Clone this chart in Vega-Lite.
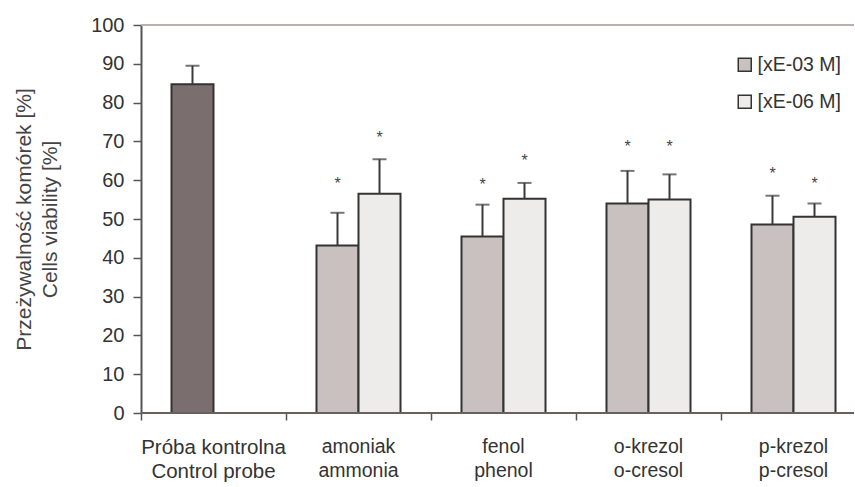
{
  "$schema": "https://vega.github.io/schema/vega-lite/v6.json",
  "width": 855,
  "height": 487,
  "autosize": {"type": "fit", "contains": "padding"},
  "padding": {"left": 13, "top": 15, "right": 0, "bottom": 5},
  "config": {
    "view": {"stroke": null},
    "font": "Liberation Sans",
    "axis": {"labelOverlap": false, "grid": false},
    "axisY": {
      "titleFontSize": 21,
      "titleFontWeight": "normal",
      "titleColor": "#444444",
      "titleLineHeight": 26,
      "titlePadding": 30,
      "labelFontSize": 20,
      "labelColor": "#333333",
      "labelPadding": 9,
      "labelOverlap": false,
      "labelFlush": false,
      "tickSize": 8,
      "tickWidth": 1.5,
      "tickColor": "#555555",
      "domainColor": "#555555",
      "domainWidth": 2
    },
    "axisX": {
      "domain": false,
      "bandPosition": 0,
      "labelAngle": 0,
      "labelColor": "#333333",
      "labelBaseline": "top",
      "labelLineHeight": 24,
      "labelPadding": 17,
      "labelOverlap": false,
      "labelBound": false,
      "tickSize": 7,
      "tickWidth": 1.5,
      "tickColor": "#555555"
    }
  },
  "data": {
    "values": [
      {"g": "Próba kontrolna|Control probe", "s": "[xE-03 M]", "shade": "control", "v": 84.7, "err": 89.5, "star": null},
      {"g": "amoniak|ammonia", "s": "[xE-03 M]", "shade": "[xE-03 M]", "v": 43.2, "err": 51.6, "star": 60.1},
      {"g": "amoniak|ammonia", "s": "[xE-06 M]", "shade": "[xE-06 M]", "v": 56.5, "err": 65.4, "star": 71.9},
      {"g": "fenol|phenol", "s": "[xE-03 M]", "shade": "[xE-03 M]", "v": 45.5, "err": 53.7, "star": 59.8},
      {"g": "fenol|phenol", "s": "[xE-06 M]", "shade": "[xE-06 M]", "v": 55.2, "err": 59.3, "star": 66.0},
      {"g": "o-krezol|o-cresol", "s": "[xE-03 M]", "shade": "[xE-03 M]", "v": 54.0, "err": 62.4, "star": 69.6},
      {"g": "o-krezol|o-cresol", "s": "[xE-06 M]", "shade": "[xE-06 M]", "v": 55.0, "err": 61.5, "star": 69.6},
      {"g": "p-krezol|p-cresol", "s": "[xE-03 M]", "shade": "[xE-03 M]", "v": 48.6, "err": 56.0, "star": 62.7},
      {"g": "p-krezol|p-cresol", "s": "[xE-06 M]", "shade": "[xE-06 M]", "v": 50.6, "err": 54.0, "star": 60.1}
    ]
  },
  "layer": [
    {
      "mark": {"type": "bar", "stroke": "#333333", "strokeWidth": 2},
      "encoding": {
        "x": {
          "field": "g", "type": "nominal", "sort": null,
          "scale": {"range": [0, 725], "paddingInner": 0, "paddingOuter": 0},
          "axis": {
            "title": null,
            "labelExpr": "split(datum.label, '|')",
            "labelFontSize": {"condition": {"test": "indexof(datum.value, 'Próba') >= 0", "value": 20.5}, "value": 19.5}
          }
        },
        "xOffset": {
          "field": "s", "type": "nominal",
          "sort": ["[xE-03 M]", "[xE-06 M]"],
          "scale": {"paddingInner": 0, "paddingOuter": 0.726}
        },
        "y": {
          "field": "v", "type": "quantitative",
          "scale": {"domain": [0, 100], "nice": false},
          "axis": {
            "values": [0, 10, 20, 30, 40, 50, 60, 70, 80, 90, 100],
            "tickCount": 11,
            "title": ["Przeżywalność komórek [%]", "Cells viability [%]"]
          }
        },
        "fill": {
          "field": "shade", "type": "nominal",
          "scale": {
            "domain": ["control", "[xE-03 M]", "[xE-06 M]"],
            "range": ["#7b6e6e", "#c9c1bf", "#edecea"]
          },
          "legend": {
            "values": ["[xE-03 M]", "[xE-06 M]"],
            "title": null,
            "orient": "none",
            "legendX": 594,
            "legendY": 30,
            "symbolType": "square",
            "symbolSize": 169,
            "symbolStrokeColor": "#333333",
            "symbolStrokeWidth": 1.5,
            "labelFontSize": 19.5,
            "labelColor": "#333333",
            "labelOffset": 3,
            "rowPadding": 16
          }
        }
      }
    },
    {
      "mark": {"type": "rule", "color": "#3a3a3a", "strokeWidth": 2},
      "encoding": {
        "x": {"field": "g", "type": "nominal", "sort": null},
        "xOffset": {"field": "s", "type": "nominal", "sort": ["[xE-03 M]", "[xE-06 M]"]},
        "y": {"field": "v", "type": "quantitative", "axis": {"values": [0, 10, 20, 30, 40, 50, 60, 70, 80, 90, 100], "tickCount": 11, "title": ["Przeżywalność komórek [%]", "Cells viability [%]"]}},
        "y2": {"field": "err"}
      }
    },
    {
      "mark": {"type": "tick", "color": "#3a3a3a", "thickness": 2, "size": 14, "orient": "horizontal"},
      "encoding": {
        "x": {"field": "g", "type": "nominal", "sort": null},
        "xOffset": {"field": "s", "type": "nominal", "sort": ["[xE-03 M]", "[xE-06 M]"]},
        "y": {"field": "err", "type": "quantitative", "axis": {"values": [0, 10, 20, 30, 40, 50, 60, 70, 80, 90, 100], "tickCount": 11, "title": ["Przeżywalność komórek [%]", "Cells viability [%]"]}}
      }
    },
    {
      "transform": [{"filter": "isValid(datum.star)"}],
      "mark": {"type": "text", "text": "*", "fontSize": 16, "color": "#444444", "baseline": "alphabetic", "dy": 9},
      "encoding": {
        "x": {"field": "g", "type": "nominal", "sort": null},
        "xOffset": {"field": "s", "type": "nominal", "sort": ["[xE-03 M]", "[xE-06 M]"]},
        "y": {"field": "star", "type": "quantitative", "axis": {"values": [0, 10, 20, 30, 40, 50, 60, 70, 80, 90, 100], "tickCount": 11, "title": ["Przeżywalność komórek [%]", "Cells viability [%]"]}}
      }
    },
    {
      "mark": {"type": "rule", "color": "#6a6060", "strokeWidth": 2},
      "encoding": {"y": {"datum": 0, "type": "quantitative", "axis": {"values": [0, 10, 20, 30, 40, 50, 60, 70, 80, 90, 100], "tickCount": 11, "title": ["Przeżywalność komórek [%]", "Cells viability [%]"]}}}
    },
    {
      "mark": {"type": "rule", "color": "#b9b0b0", "strokeWidth": 2},
      "encoding": {"y": {"datum": 100, "type": "quantitative", "axis": {"values": [0, 10, 20, 30, 40, 50, 60, 70, 80, 90, 100], "tickCount": 11, "title": ["Przeżywalność komórek [%]", "Cells viability [%]"]}}}
    }
  ]
}
